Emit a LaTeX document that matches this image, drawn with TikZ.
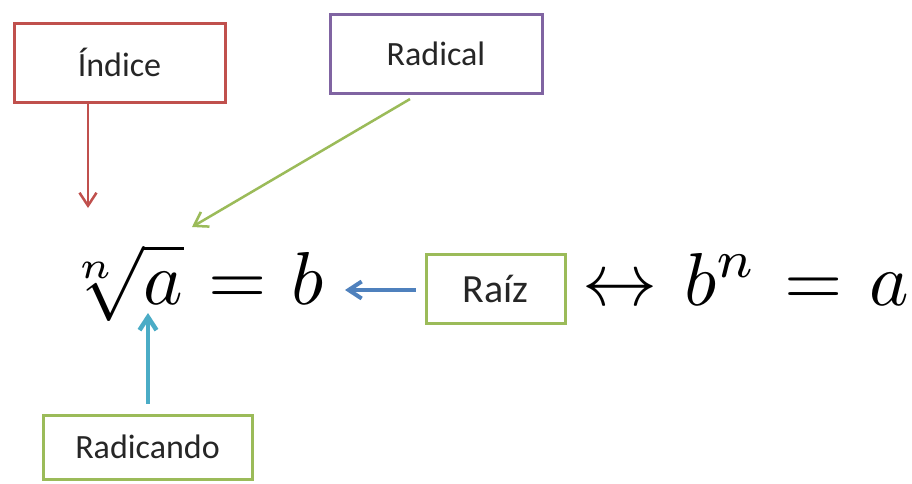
\documentclass[tikz,border=0pt]{standalone}
\usepackage{graphicx}
\usepackage{fontspec}
\setmainfont{Carlito}
\usetikzlibrary{arrows.meta}
\definecolor{idxRed}{RGB}{192,80,77}
\definecolor{radPurple}{RGB}{128,100,162}
\definecolor{leafGreen}{RGB}{155,187,89}
\definecolor{rootBlue}{RGB}{79,129,189}
\definecolor{baseCyan}{RGB}{75,172,198}
\definecolor{labelInk}{RGB}{38,38,38}
\newcommand{\bigmath}[1]{\scalebox{7.5}{$#1$}}

\begin{document}
\begin{tikzpicture}[x=1pt,y=-1pt,
    labelbox/.style={draw, line width=3pt, fill=white, inner sep=0pt, text=labelInk,
      font=\fontsize{34pt}{40pt}\selectfont},
    callout/.style={-{Straight Barb[length=13pt,width=17pt]}, line width=2.5pt},
    mathbig/.style={inner sep=0pt}]
  \fill[white] (0,0) rectangle (912,483);
  \useasboundingbox (0,0) rectangle (912,483);

  % boxes
  \node[labelbox, draw=idxRed, minimum width=211pt, minimum height=79pt] (indice) at (119.5,62.5) {Índice};
  \node[labelbox, draw=radPurple, minimum width=212pt, minimum height=79pt] (radical) at (436,53.5) {Radical};
  \node[labelbox, draw=leafGreen, minimum width=139pt, minimum height=69pt,
    font=\fontsize{40pt}{46pt}\selectfont] (raiz) at (495.5,288.5) {Raíz};
  \node[labelbox, draw=leafGreen, minimum width=209pt, minimum height=64pt] (radicando) at (147.5,447) {Radicando};

  % formulas
  \node[mathbig, anchor=base west] (lhs) at (69,304) {\bigmath{\sqrt[\kern-1.5pt n\kern1.5pt]{a} \mkern1mu= \mkern1mu b}};
  \node[mathbig, anchor=base west] (rhs) at (582,305) {\bigmath{\leftrightarrow \mkern1.5mu b^n \mkern1.5mu= \mkern1.5mu a}};

  % arrow tips
  \coordinate (idxTip) at (88,208);
  \coordinate (radTip) at (192,227);
  \coordinate (rootTip) at (345,290);
  \coordinate (baseTip) at (148,313);

  \draw[callout, idxRed] (indice.south -| idxTip) -- (idxTip);
  \draw[callout, leafGreen, shorten <=9pt] (radical.246.6) -- (radTip);
  \draw[callout, rootBlue, line width=4pt, shorten <=9pt] (raiz.west |- rootTip) -- (rootTip);
  \draw[callout, baseCyan, line width=4.5pt, shorten <=10pt] (radicando.north -| baseTip) -- (baseTip);
\end{tikzpicture}
\end{document}
